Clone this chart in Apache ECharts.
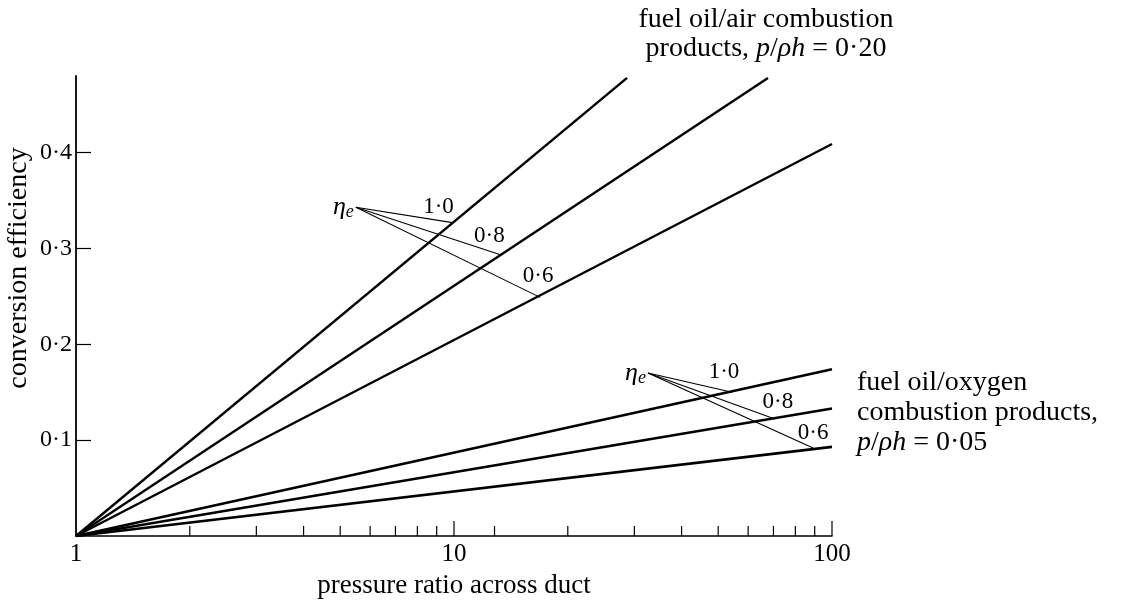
<!DOCTYPE html>
<html>
<head>
<meta charset="utf-8">
<script src="https://cdn.jsdelivr.net/npm/echarts@6.0.0/dist/echarts.min.js"></script>
<style>
  html, body { margin: 0; padding: 0; background: #fff; }
  #main { width: 1132px; height: 601px; }
</style>
</head>
<body>
<div id="main"></div>
<script>
// efficiency labels of the three lines in each group
var etaLabels = ['1·0', '0·8', '0·6'];

// fuel oil / air lines: all start at ratio 1, efficiency 0
var airEndX = [28.7, 67.7, 100];
var airEndY = [0.478, 0.478, 0.409];

// fuel oil / oxygen lines
var oxyEndX = [100, 100, 100];
var oxyEndY = [0.174, 0.133, 0.093];

// leader lines from the eta_e note to each line
var airApex = [5.5, 0.343];
var airLeaderX = [9.9, 13.4, 16.9];
var airLeaderY = [0.327, 0.293, 0.249];
var airLabelX = [9.1, 12.4, 16.7];
var airLabelY = [0.343, 0.313, 0.271];

var oxyApex = [32.6, 0.170];
var oxyLeaderX = [54.4, 70.6, 89.1];
var oxyLeaderY = [0.150, 0.122, 0.0917];
var oxyLabelX = [51.8, 71.9, 89.1];
var oxyLabelY = [0.171, 0.140, 0.1075];

// axis ticks
var yTicks = [0.1, 0.2, 0.3, 0.4];
var xMajorTicks = [10, 100];
var xMinorTicks = [2, 3, 4, 5, 6, 7, 8, 9, 12.8, 20, 30, 40, 50, 60, 70, 80, 90];

var serif = '"Liberation Serif", "DejaVu Serif", serif';

var chart = echarts.init(document.getElementById('main'));

function mainLine(x, y, width) {
  return {
    type: 'line',
    data: [[1, 0], [x, y]],
    symbol: 'none',
    silent: true,
    lineStyle: { color: '#000', width: width }
  };
}

function leaders(apex, xs, ys) {
  return xs.map(function (x, i) {
    return {
      type: 'line',
      data: [apex, [x, ys[i]]],
      symbol: 'none',
      silent: true,
      lineStyle: { color: '#000', width: 1.1 }
    };
  });
}

function tickSeries(values, len) {
  return {
    type: 'custom',
    silent: true,
    data: values.map(function (v) { return [v, 0]; }),
    renderItem: function (params, api) {
      var p = api.coord([api.value(0), 0]);
      return {
        type: 'line',
        shape: { x1: p[0], y1: p[1], x2: p[0], y2: p[1] - len },
        style: { stroke: '#000', lineWidth: 1.2 }
      };
    }
  };
}

var etaRich = {
  a: { fontFamily: serif, fontStyle: 'italic', fontSize: 26, color: '#000' },
  b: { fontFamily: serif, fontStyle: 'italic', fontSize: 18, color: '#000', padding: [10, 0, 0, 0] }
};

function etaNote(apex) {
  return {
    type: 'scatter',
    data: [apex],
    symbolSize: 0,
    silent: true,
    itemStyle: { opacity: 1, color: '#000' },
    label: {
      show: true,
      position: 'left',
      distance: 2,
      opacity: 1,
      formatter: '{a|η}{b|e}',
      rich: etaRich
    }
  };
}

function valueLabels(xs, ys) {
  return {
    type: 'scatter',
    symbolSize: 0,
    silent: true,
    itemStyle: { opacity: 1, color: '#000' },
    data: xs.map(function (x, i) { return { value: [x, ys[i]], name: etaLabels[i] }; }),
    label: {
      show: true,
      position: 'inside',
      opacity: 1,
      formatter: '{b}',
      fontFamily: serif,
      fontSize: 23,
      color: '#000'
    }
  };
}

var series = [];
airEndX.forEach(function (x, i) { series.push(mainLine(x, airEndY[i], 2.4)); });
oxyEndX.forEach(function (x, i) { series.push(mainLine(x, oxyEndY[i], 2.6)); });
series = series.concat(leaders(airApex, airLeaderX, airLeaderY));
series = series.concat(leaders(oxyApex, oxyLeaderX, oxyLeaderY));
series.push(etaNote(airApex), etaNote(oxyApex));
series.push(valueLabels(airLabelX, airLabelY), valueLabels(oxyLabelX, oxyLabelY));
series.push(tickSeries(xMajorTicks, 15), tickSeries(xMinorTicks, 10));

var textStyle = { fontFamily: serif, fontSize: 28, fill: '#000' };
var italic = { fontFamily: serif, fontSize: 28, fontStyle: 'italic', color: '#000' };

chart.setOption({
  backgroundColor: '#fff',
  animation: false,
  grid: { left: 76, right: 300, top: 76, bottom: 65, outerBoundsMode: 'none', containLabel: false },
  xAxis: {
    type: 'log',
    logBase: 10,
    min: 1,
    max: 100,
    name: 'pressure ratio across duct',
    nameLocation: 'middle',
    nameGap: 36,
    nameTextStyle: { fontFamily: serif, fontSize: 27, color: '#000' },
    axisLine: { lineStyle: { color: '#000', width: 1.5 } },
    axisTick: { show: false },
    splitLine: { show: false },
    axisLabel: { fontFamily: serif, fontSize: 25, color: '#000', margin: 6 }
  },
  yAxis: {
    type: 'value',
    min: 0,
    max: 0.48,
    interval: 0.1,
    axisLine: { show: true, lineStyle: { color: '#000', width: 1.8 } },
    axisTick: { show: true, inside: true, length: 15, customValues: yTicks, lineStyle: { color: '#000', width: 1.2 } },
    splitLine: { show: false },
    axisLabel: {
      customValues: yTicks,
      fontFamily: serif,
      fontSize: 24,
      color: '#000',
      margin: 4,
      formatter: function (v) { return v.toFixed(1).replace('.', '·'); }
    }
  },
  graphic: [
    {
      type: 'text', x: 19, y: 268, rotation: Math.PI / 2,
      style: Object.assign({ text: 'conversion efficiency', align: 'center', verticalAlign: 'middle' }, textStyle)
    },
    {
      type: 'text', x: 766, y: 20,
      style: Object.assign({ text: 'fuel oil/air combustion', align: 'center', verticalAlign: 'middle' }, textStyle)
    },
    {
      type: 'text', x: 766, y: 49,
      style: {
        text: 'products, {i|p}/{i|ρh} = 0·20', align: 'center', verticalAlign: 'middle',
        fontFamily: serif, fontSize: 28, fill: '#000', rich: { i: italic }
      }
    },
    {
      type: 'text', x: 857, y: 383,
      style: Object.assign({ text: 'fuel oil/oxygen', align: 'left', verticalAlign: 'middle' }, textStyle)
    },
    {
      type: 'text', x: 857, y: 413,
      style: Object.assign({ text: 'combustion products,', align: 'left', verticalAlign: 'middle' }, textStyle)
    },
    {
      type: 'text', x: 857, y: 443,
      style: {
        text: '{i|p}/{i|ρh} = 0·05', align: 'left', verticalAlign: 'middle',
        fontFamily: serif, fontSize: 28, fill: '#000', rich: { i: italic }
      }
    }
  ],
  series: series
});
</script>
</body>
</html>
